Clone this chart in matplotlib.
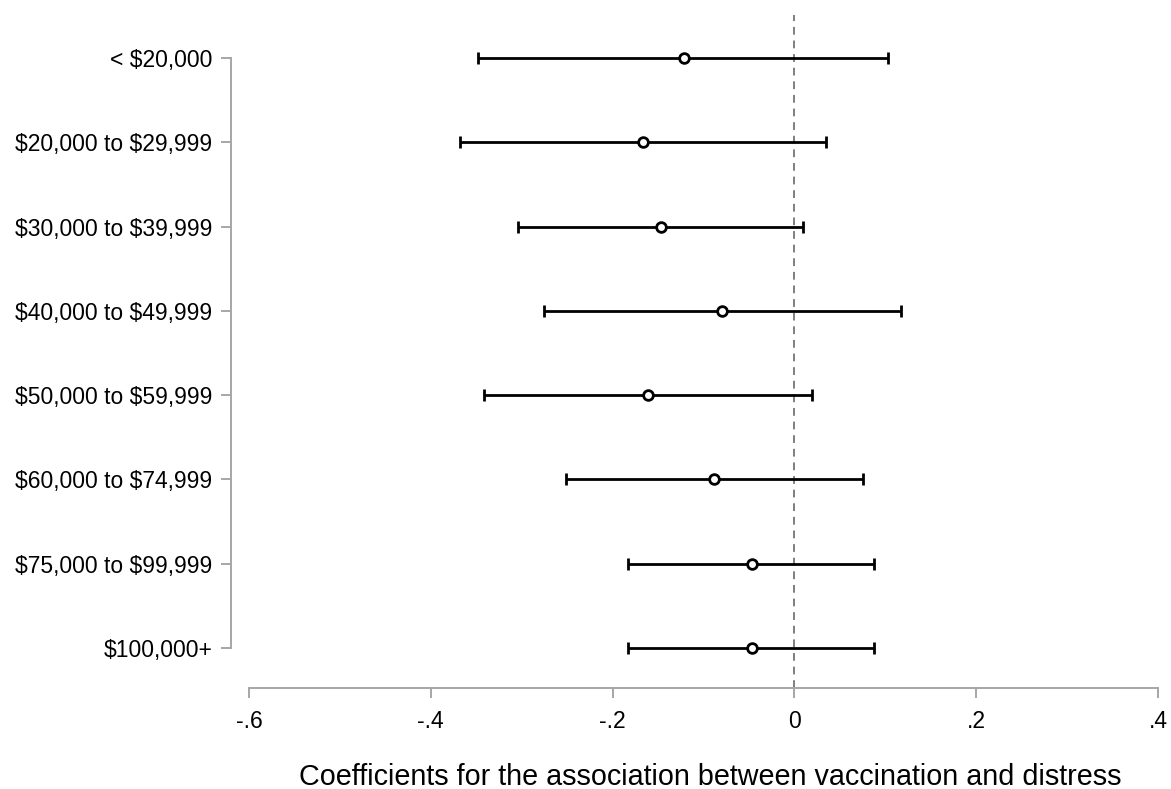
import matplotlib
matplotlib.use("Agg")
import matplotlib.pyplot as plt

# income groups, top to bottom
labels = ["< \\$20,000", "\\$20,000 to \\$29,999", "\\$30,000 to \\$39,999", "\\$40,000 to \\$49,999",
          "\\$50,000 to \\$59,999", "\\$60,000 to \\$74,999", "\\$75,000 to \\$99,999", "\\$100,000+"]
coef = [-0.122, -0.167, -0.147, -0.080, -0.161, -0.088, -0.047, -0.047]
lower = [-0.348, -0.368, -0.304, -0.276, -0.342, -0.251, -0.183, -0.183]
upper = [0.103, 0.035, 0.010, 0.117, 0.019, 0.076, 0.088, 0.088]
xticks = [-0.6, -0.4, -0.2, 0, 0.2, 0.4]
xticklabels = ["-.6", "-.4", "-.2", "0", ".2", ".4"]

plt.rcParams['font.family'] = ['Liberation Sans', 'DejaVu Sans']

W, H = 1171, 789
fig = plt.figure(figsize=(W / 100, H / 100), dpi=100)
ax = fig.add_axes([249 / W, 1 - 688 / H, (1158 - 249) / W, (688 - 15) / H])

# spines first (set_position resets the tick settings)
for s in ['top', 'right']:
    ax.spines[s].set_visible(False)
ax.spines['left'].set_position(('outward', 13))

pos = list(range(1, len(labels) + 1))
err = [[c - l for c, l in zip(coef, lower)], [u - c for c, u in zip(coef, upper)]]

ax.axvline(0, color='#7f7f7f', lw=1.4, ls=(0, (4, 3)), zorder=1)
ax.errorbar(coef, pos, xerr=err, fmt='none', ecolor='black', elinewidth=2,
            capsize=4.5, capthick=2, zorder=2)
ax.plot(coef, pos, 'o', mfc='white', mec='black', mew=2, ms=7, zorder=3)

ax.set_xlim(-0.6, 0.4)
ax.set_ylim(8.474, 0.49)
ax.set_yticks(pos)
ax.set_yticklabels(labels)
ax.set_xticks(xticks)
ax.set_xticklabels(xticklabels)

ax.spines['left'].set_bounds(1, 8)
ax.spines['bottom'].set_bounds(-0.6, 0.4)
for s in ['left', 'bottom']:
    ax.spines[s].set_color('#a6a6a6')
    ax.spines[s].set_linewidth(1.4)
ax.tick_params(axis='both', color='#a6a6a6', width=1.4, length=7.5, pad=6,
               labelsize=16.5, labelcolor='black')
ax.tick_params(axis='x', pad=8)

ax.set_xlabel("Coefficients for the association between vaccination and distress",
              fontsize=20.7, labelpad=22)
ax.xaxis.label.set_x(0.507)

fig.savefig("out.png", dpi=100, facecolor='white')
